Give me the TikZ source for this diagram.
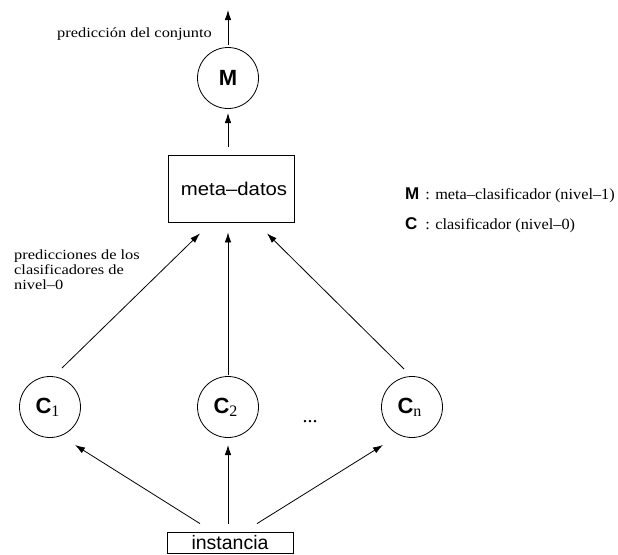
\documentclass[tikz,border=0pt]{standalone}
\usepackage{fontspec}
\setmainfont{Liberation Serif}
\newfontfamily\hv{Liberation Sans}
\usetikzlibrary{arrows.meta}

% horizontally widened text
\newcommand{\wide}[2]{\scalebox{#1}[1]{#2}}
\newcommand{\sub}[1]{\raisebox{-3pt}{\normalfont\fontsize{16}{16}\selectfont #1}}
\newcommand{\legsym}[1]{{\hv\bfseries\fontsize{17}{17}\selectfont #1}}

\tikzset{
  arr/.style={-{Latex[length=10pt,width=6.5pt]}, line width=0.8pt},
  clf/.style={circle, draw, line width=0.8pt, minimum size=61pt, inner sep=0pt,
              font=\hv\bfseries\fontsize{22}{22}\selectfont},
  databox/.style={rectangle, draw, line width=0.8pt, minimum width=126pt, inner sep=0pt,
              font=\hv\fontsize{18.5}{19}\selectfont},
  note/.style={font=\fontsize{14}{15}\selectfont, inner sep=0pt},
  legendtext/.style={font=\fontsize{15.5}{16}\selectfont, inner sep=0pt, anchor=base west},
}

\begin{document}
\begin{tikzpicture}[x=1pt, y=-1pt]
  \useasboundingbox (0,0) rectangle (618,554);

  % meta-classifier and meta data
  \node[clf] (M) at (228,78) {M};
  \node[databox, minimum height=67pt] (meta) at (231,188.5)
    {\hspace{6pt}\wide{1.1}{meta–datos}};

  % base classifiers
  \node[clf] (c1) at (50,407) {\hspace{-5pt}C\sub{1}};
  \node[clf] (c2) at (228,407) {\hspace{-5pt}C\sub{2}};
  \node[clf] (cn) at (412,407) {\hspace{-5pt}C\sub{n}};
  \node[inner sep=0pt, anchor=base, font=\fontsize{20}{20}\selectfont] (dots) at (310,422) {...};

  % input instance
  \node[databox, minimum height=21pt, font=\hv\fontsize{19.5}{20}\selectfont] (inst)
    at (230,542.5) {instancia};

  % labels
  \node[note, anchor=base east] (outlbl) at (212,37) {\wide{1.17}{predicción del conjunto}};
  \node[note, anchor=base west] (predlbl1) at (14,259) {\wide{1.17}{predicciones de los}};
  \node[note, anchor=base west] (predlbl2) at (14,274) {\wide{1.17}{clasificadores de}};
  \node[note, anchor=base west] (predlbl3) at (14,289) {\wide{1.17}{nivel–0}};

  % legend
  \node[legendtext] (legM) at (405,199)
    {\legsym{M}\hspace{6pt}\wide{1.05}{: meta–clasificador (nivel–1)}};
  \node[legendtext] (legC) at (405,229)
    {\legsym{C}\hspace{8pt}\wide{1.05}{: clasificador (nivel–0)}};

  % output of the ensemble
  \coordinate (out) at ([shift={(0,-68)}]M.center);
  \draw[arr] ([shift={(0,-33)}]M.center) -- (out);
  \draw[arr] ([shift={(-3,-8)}]meta.north) -- ([shift={(0,35)}]M.center);

  % base predictions into the meta data
  \draw[arr] ([shift={(12,-39)}]c1.center) -- ([shift={(-31,11)}]meta.south);
  \draw[arr] ([shift={(0,-32)}]c2.center) -- ([shift={(-3,10)}]meta.south);
  \draw[arr] ([shift={(-8,-38)}]cn.center) -- ([shift={(36,11)}]meta.south);

  % instance fed to every base classifier
  \draw[arr] ([shift={(-30,-8)}]inst.north) -- ([shift={(25,38)}]c1.center);
  \draw[arr] ([shift={(-2,-8)}]inst.north) -- ([shift={(0,38)}]c2.center);
  \draw[arr] ([shift={(27,-8)}]inst.north) -- ([shift={(-29,38)}]cn.center);
\end{tikzpicture}
\end{document}
